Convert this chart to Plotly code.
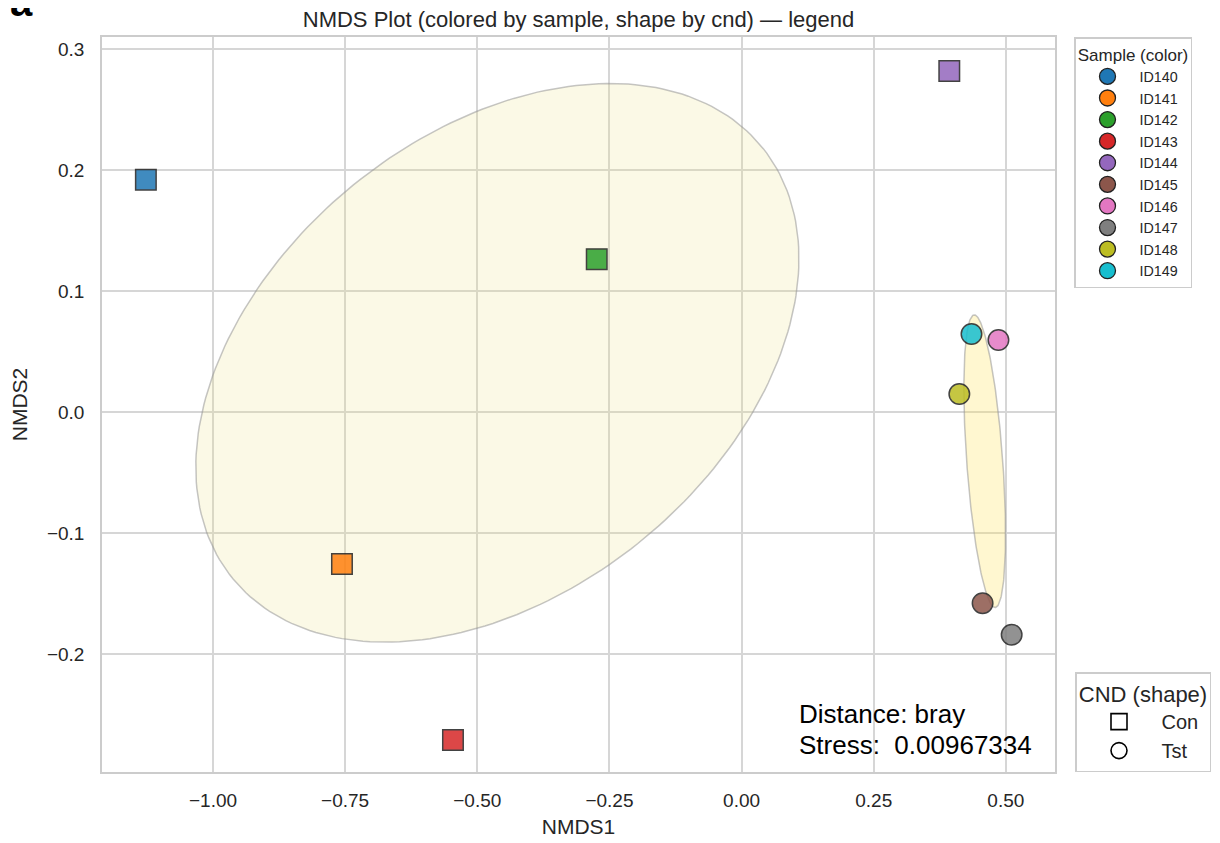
import numpy as np
import plotly.graph_objects as go

samples = ["ID140", "ID141", "ID142", "ID143", "ID144", "ID145", "ID146", "ID147", "ID148", "ID149"]
nmds1 = [-1.127, -0.756, -0.274, -0.546, 0.393, 0.456, 0.486, 0.511, 0.412, 0.435]
nmds2 = [0.192, -0.1256, 0.1264, -0.271, 0.2818, -0.158, 0.0595, -0.184, 0.0149, 0.0645]
cnd = ["Con", "Con", "Con", "Con", "Con", "Tst", "Tst", "Tst", "Tst", "Tst"]
colors = ["#1f77b4", "#ff7f0e", "#2ca02c", "#d62728", "#9467bd",
          "#8c564b", "#e377c2", "#7f7f7f", "#bcbd22", "#17becf"]
groups = ["Con", "Tst"]
group_symbols = {"Con": "square", "Tst": "circle"}
group_fill = {"Con": "rgba(235,225,130,0.2)", "Tst": "rgba(255,225,80,0.27)"}
distance = "bray"
stress = "0.00967334"

FONT = "Liberation Sans, Arial, Helvetica, sans-serif"
TXT = "#262626"

fig = go.Figure()

# confidence ellipses (1 SD) per condition
t = np.linspace(0, 2 * np.pi, 240)
for g in groups:
    xs = np.array([x for x, c in zip(nmds1, cnd) if c == g])
    ys = np.array([y for y, c in zip(nmds2, cnd) if c == g])
    cov = np.cov(xs, ys)
    vals, vecs = np.linalg.eigh(cov)
    circ = np.vstack([np.cos(t), np.sin(t)]) * np.sqrt(vals)[:, None]
    pts = vecs @ circ
    ex = pts[0] + xs.mean()
    ey = pts[1] + ys.mean()
    fig.add_trace(go.Scatter(x=ex, y=ey, mode="lines", fill="toself",
                             fillcolor=group_fill[g],
                             line=dict(color="rgba(150,150,150,0.55)", width=1.5),
                             showlegend=False, hoverinfo="skip"))

# points
for s, x, y, c, col in zip(samples, nmds1, nmds2, cnd, colors):
    fig.add_trace(go.Scatter(x=[x], y=[y], mode="markers",
                             marker=dict(symbol=group_symbols[c], size=20.5, color=col,
                                         opacity=0.85,
                                         line=dict(color="#222222", width=1.5)),
                             showlegend=False, name=s))

# sample legend (colors)
for s, col in zip(samples, colors):
    fig.add_trace(go.Scatter(x=[None], y=[None], mode="markers", name=s,
                             marker=dict(symbol="circle", size=16, color=col,
                                         line=dict(color="#222222", width=1.3)),
                             legend="legend"))
# shape legend
for g in groups:
    fig.add_trace(go.Scatter(x=[None], y=[None], mode="markers", name=g,
                             marker=dict(symbol=group_symbols[g], size=16, color="white",
                                         line=dict(color="black", width=1.6)),
                             legend="legend2"))

fig.add_annotation(xref="paper", yref="paper", x=0.7293, y=0.0789,
                   xanchor="left", yanchor="middle", align="left", showarrow=False,
                   text=f"Distance: {distance}",
                   font=dict(size=26, color="black", family=FONT))
fig.add_annotation(xref="paper", yref="paper", x=0.7293, y=0.0367,
                   xanchor="left", yanchor="middle", align="left", showarrow=False,
                   text=f"Stress:\u00a0\u00a0{stress}",
                   font=dict(size=26, color="black", family=FONT))

fig.add_annotation(xref="paper", yref="paper", x=-0.0986, y=1.015,
                   xanchor="left", yanchor="bottom", showarrow=False,
                   text="<b>a</b>", font=dict(size=40, color="black", family=FONT))

axis_common = dict(showgrid=True, gridcolor="#d6d6d6", gridwidth=1.5,
                   showline=True, linecolor="#cccccc", linewidth=1.5, mirror=True,
                   zeroline=False, ticks="", tickfont=dict(size=19, color=TXT, family=FONT),
                   title_font=dict(size=21, color=TXT, family=FONT))

fig.update_layout(
    width=1212, height=835,
    margin=dict(l=94, r=165, t=29, b=71, autoexpand=False),
    paper_bgcolor="white", plot_bgcolor="white",
    font=dict(family=FONT, color=TXT),
    title=dict(text="NMDS Plot (colored by sample, shape by cnd) — legend",
               xref="paper", x=0.5, xanchor="center",
               yref="container", y=1 - 11 / 835, yanchor="middle",
               font=dict(size=22, color=TXT, family=FONT)),
    xaxis=dict(range=[-1.21, 0.593], tick0=0, dtick=0.25, tickformat=".2f",
               ticklabelstandoff=10,
               title=dict(text="NMDS1", standoff=10), **axis_common),
    yaxis=dict(range=[-0.2975, 0.31], tick0=0, dtick=0.1, tickformat=".1f",
               ticklabelstandoff=12,
               title=dict(text="NMDS2", standoff=14), **axis_common),
    legend=dict(x=(1074 - 102) / 953, y=1, xanchor="left", yanchor="top",
                bgcolor="white", bordercolor="#cccccc", borderwidth=1.5,
                font=dict(size=14.3, color=TXT, family=FONT),
                title=dict(text="Sample (color)", side="top center",
                           font=dict(size=17, color=TXT, family=FONT)),
                itemsizing="trace", itemwidth=54),
    legend2=dict(x=(1075 - 102) / 953, y=0, xanchor="left", yanchor="bottom",
                 bgcolor="white", bordercolor="#cccccc", borderwidth=1.5,
                 font=dict(size=20, color=TXT, family=FONT),
                 title=dict(text="CND (shape)", side="top center",
                            font=dict(size=22, color=TXT, family=FONT)),
                 itemsizing="trace", itemwidth=75),
)

fig.write_html("out.html")
